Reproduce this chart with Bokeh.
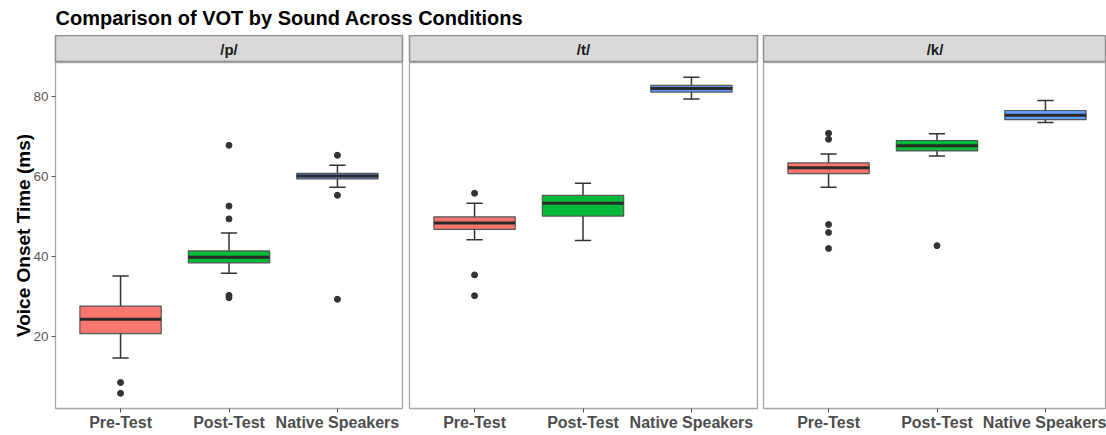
from bokeh.plotting import figure
from bokeh.models import ColumnDataSource, Range1d, FixedTicker
from bokeh.layouts import column, row
from bokeh.core.properties import value
from bokeh.embed import file_html
from bokeh.resources import INLINE

# ---------------- data ----------------
title_text = "Comparison of VOT by Sound Across Conditions"
y_label = "Voice Onset Time (ms)"
sounds = ["/p/", "/t/", "/k/"]
conditions = ["Pre-Test", "Post-Test", "Native Speakers"]
fill_colors = ["#F8766D", "#00BA38", "#619CFF"]
y_ticks = [20, 40, 60, 80]

whisker_lo = {"/p/": [14.6, 35.8, 57.3], "/t/": [44.2, 44.0, 79.4], "/k/": [57.3, 65.1, 73.5]}
box_q1 = {"/p/": [20.7, 38.4, 59.4], "/t/": [46.8, 50.1, 81.1], "/k/": [60.7, 66.4, 74.2]}
box_median = {"/p/": [24.3, 39.8, 60.1], "/t/": [48.4, 53.3, 82.0], "/k/": [62.2, 67.7, 75.3]}
box_q3 = {"/p/": [27.6, 41.4, 60.8], "/t/": [49.9, 55.3, 82.8], "/k/": [63.4, 69.0, 76.5]}
whisker_hi = {"/p/": [35.1, 45.9, 62.8], "/t/": [53.3, 58.3, 84.8], "/k/": [65.6, 70.7, 79.0]}
outliers = {
    "/p/": [[8.5, 5.8], [67.8, 52.6, 49.4, 30.3, 29.7], [65.3, 55.3, 29.3]],
    "/t/": [[55.8, 35.4, 30.2], [], []],
    "/k/": [[70.8, 69.3, 48.0, 46.0, 42.0], [42.7], []],
}

# ---------------- layout / style constants ----------------
FONT = value("Liberation Sans")
TITLE_H = 35
TITLE_BASE = 17
STRIP_H = 27
PANEL_H = 373
AXIS_H = 27
Y_START, Y_END = 2.0, 88.5
X_START = 0.4
BOX_W = 0.75
CAP_W = 0.15
# (min_border_left, frame_width, min_border_right) per facet
geom = [(55, 347, 3), (4, 348, 3), (3, 343, 0)]
unit_px = geom[0][1] / 3.2

positions = [conditions.index(c) + 1 for c in conditions]
label_map = {pos: c for pos, c in zip(positions, conditions)}

# ---------------- title ----------------
total_w = sum(g[0] + g[1] + g[2] for g in geom)
tf = figure(width=total_w, height=TITLE_H, x_range=Range1d(0, total_w), y_range=Range1d(0, TITLE_H),
            title=None, output_backend="svg", toolbar_location=None, x_axis_location=None,
            y_axis_location=None, min_border=0, outline_line_color=None)
tf.grid.visible = False
tf.text(x=[geom[0][0]], y=[TITLE_H - TITLE_BASE], text=[title_text], text_font=FONT,
        text_font_style="bold", text_font_size="20px", text_color="#000000",
        text_baseline="alphabetic", text_align="left")

cols = []
for i, s in enumerate(sounds):
    ml, fw, mr = geom[i]
    # strip
    sf = figure(width=ml + fw + mr, height=STRIP_H, x_range=Range1d(0, 1), y_range=Range1d(0, 1),
                title=None, output_backend="svg", toolbar_location=None, x_axis_location=None,
                y_axis_location=None,
                min_border_left=ml, min_border_right=mr, min_border_top=0, min_border_bottom=0,
                background_fill_color="#D9D9D9", border_fill_color="white",
                outline_line_color="#8f8f8f", outline_line_width=1.5)
    sf.grid.visible = False
    sf.text(x=[0.5], y=[0.5], text=[s], text_font=FONT, text_font_style="bold", text_font_size="15px",
            text_color="#1a1a1a", text_align="center", text_baseline="middle")

    # panel
    x_end = X_START + fw / unit_px
    p = figure(width=ml + fw + mr, height=PANEL_H, x_range=Range1d(X_START, x_end),
               y_range=Range1d(Y_START, Y_END), title=None, output_backend="svg", toolbar_location=None,
               y_axis_location="left" if i == 0 else None,
               min_border_left=ml, min_border_right=mr, min_border_top=0, min_border_bottom=AXIS_H,
               background_fill_color="white", border_fill_color="white",
               outline_line_color="#a6a6a6", outline_line_width=1.3)
    p.grid.visible = False

    src = ColumnDataSource(dict(
        x=positions, lo=whisker_lo[s], q1=box_q1[s], med=box_median[s], q3=box_q3[s], hi=whisker_hi[s],
        color=fill_colors,
        left=[x - BOX_W / 2 for x in positions], right=[x + BOX_W / 2 for x in positions],
        capl=[x - CAP_W / 2 for x in positions], capr=[x + CAP_W / 2 for x in positions],
    ))
    wl = dict(line_color="#333333", line_width=1.5)
    p.segment(x0="x", y0="q3", x1="x", y1="hi", source=src, **wl)
    p.segment(x0="x", y0="q1", x1="x", y1="lo", source=src, **wl)
    p.segment(x0="capl", y0="hi", x1="capr", y1="hi", source=src, **wl)
    p.segment(x0="capl", y0="lo", x1="capr", y1="lo", source=src, **wl)
    p.vbar(x="x", width=BOX_W, bottom="q1", top="q3", fill_color="color", line_color="#555555",
           line_width=1.2, source=src)
    p.segment(x0="left", y0="med", x1="right", y1="med", line_color="#2a2a2a", line_width=3, source=src)

    ox, oy = [], []
    for pos, vals in zip(positions, outliers[s]):
        ox += [pos] * len(vals)
        oy += vals
    p.scatter(x=ox, y=oy, size=6, fill_color="#333333", line_color="#333333")

    xa = p.xaxis[0]
    xa.ticker = FixedTicker(ticks=positions)
    xa.major_label_overrides = label_map
    xa.axis_line_color = None
    xa.major_tick_out = 4
    xa.major_tick_in = 0
    xa.minor_tick_line_color = None
    xa.major_tick_line_color = "#555555"
    xa.major_label_standoff = 1
    xa.major_label_text_font = "Liberation Sans"
    xa.major_label_text_font_style = "bold"
    xa.major_label_text_font_size = "16px"
    xa.major_label_text_color = "#4d4d4d"

    if i == 0:
        ya = p.yaxis[0]
        ya.ticker = FixedTicker(ticks=y_ticks)
        ya.axis_line_color = None
        ya.major_tick_out = 4
        ya.major_tick_in = 0
        ya.minor_tick_line_color = None
        ya.major_tick_line_color = "#555555"
        ya.major_label_standoff = 3
        ya.major_label_text_font = "Liberation Sans"
        ya.major_label_text_font_size = "13.5px"
        ya.major_label_text_color = "#5a5a5a"
        ya.axis_label = y_label
        ya.axis_label_text_font = "Liberation Sans"
        ya.axis_label_text_font_style = "bold"
        ya.axis_label_text_font_size = "19px"
        ya.axis_label_text_color = "#000000"
        ya.axis_label_standoff = -4

    cols.append(column(sf, p, spacing=0))

layout = column(tf, row(*cols, spacing=0), spacing=0)

open("out.html", "w").write(file_html(layout, INLINE))
